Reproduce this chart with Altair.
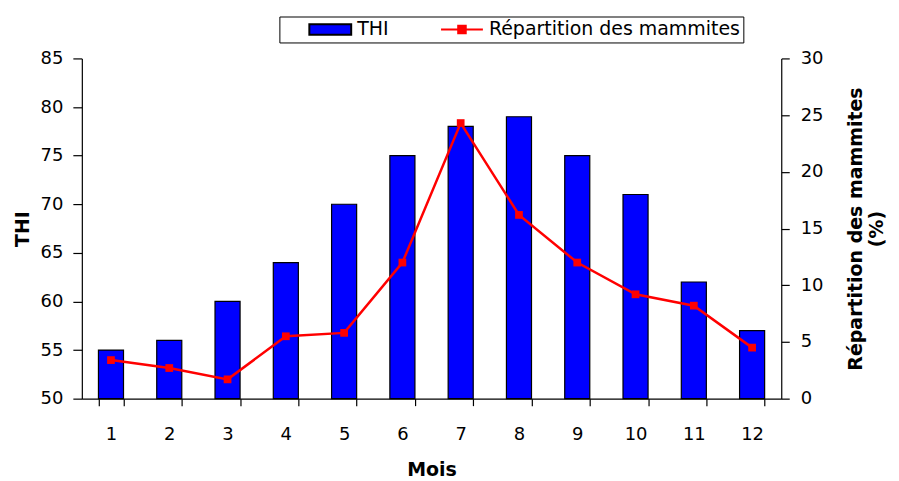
import altair as alt
import pandas as pd

mois = list(range(1, 13))
thi = [55, 56, 60, 64, 70, 75, 78, 79, 75, 71, 62, 57]
mammites = [3.4, 2.7, 1.7, 5.5, 5.8, 12.0, 24.3, 16.2, 12.0, 9.2, 8.2, 4.5]
series_names = ["THI", "Répartition des mammites"]

df = pd.DataFrame({"Mois": mois, "THI": thi, "Mammites": mammites})
leg_df = pd.DataFrame({"series": series_names})

FONT = "DejaVu Sans"

x_enc = alt.X(
    "Mois:O",
    scale=alt.Scale(paddingInner=0.57, paddingOuter=0.285),
    axis=alt.Axis(
        title="Mois", labelAngle=0, tickBand="extent", tickSize=7,
        labelPadding=20, titlePadding=17,
    ),
)

bars = alt.Chart(df).mark_bar(
    color="#0000FF", stroke="#000000", strokeWidth=1.2
).encode(
    x=x_enc,
    y=alt.Y(
        "THI:Q",
        scale=alt.Scale(domain=[50, 85], zero=False, nice=False),
        axis=alt.Axis(
            title="THI", values=[50, 55, 60, 65, 70, 75, 80, 85],
            tickSize=9, labelPadding=10, titlePadding=8, orient="left",
        ),
    ),
    y2=alt.datum(50),
)

line = alt.Chart(df).mark_line(
    color="#FF0000", strokeWidth=2.5,
    point=alt.OverlayMarkDef(shape="square", filled=True, size=60, color="#FF0000"),
).encode(
    x=x_enc,
    y=alt.Y(
        "Mammites:Q",
        scale=alt.Scale(domain=[0, 30], nice=False),
        axis=alt.Axis(
            title=["Répartition des mammites", "(%)"], orient="right",
            values=[0, 5, 10, 15, 20, 25, 30], tickSize=8, labelPadding=11,
            titlePadding=22, titleAngle=270,
        ),
    ),
)

legend_def = alt.Legend(
    title=" ", titleOrient="left", titlePadding=38,
    orient="none", legendX=198, legendY=-42, direction="horizontal",
    strokeColor="#000000", fillColor="#FFFFFF", padding=3,
    symbolSize=324, symbolStrokeWidth=2, symbolOpacity=1,
    labelFontSize=19, labelFont=FONT, labelColor="#000000", labelLimit=400,
    columnPadding=48, labelOffset=17,
)

bar_path = "M-2.33,-0.58H2.33V0.58H-2.33Z"
line_path = "M-2.33,0H2.33M-0.42,-0.42H0.42V0.42H-0.42Z"

legend_layer = alt.Chart(leg_df).mark_point(filled=True, opacity=0).encode(
    x=alt.value(0),
    y=alt.value(0),
    fill=alt.Fill("series:N", scale=alt.Scale(domain=series_names, range=["#0000FF", "#FF0000"]), legend=legend_def),
    stroke=alt.Stroke("series:N", scale=alt.Scale(domain=series_names, range=["#000000", "#FF0000"]), legend=legend_def),
    shape=alt.Shape("series:N", scale=alt.Scale(domain=series_names, range=[bar_path, line_path]), legend=legend_def),
)

chart = alt.layer(bars, line, legend_layer).resolve_scale(
    y="independent"
).properties(
    width=701, height=341,
    autosize=alt.AutoSizeParams(type="none"),
    padding={"left": 74, "top": 50, "right": 110, "bottom": 82},
).configure_view(
    stroke=None
).configure_axis(
    labelFont=FONT, labelFontSize=18, labelColor="#000000",
    titleFont=FONT, titleFontSize=19, titleFontWeight="bold", titleColor="#000000",
    domainColor="#000000", tickColor="#000000", domainWidth=1.2, tickWidth=1.2,
    grid=False,
)

chart.save("out.html", embed_options={"renderer": "svg", "actions": False})
